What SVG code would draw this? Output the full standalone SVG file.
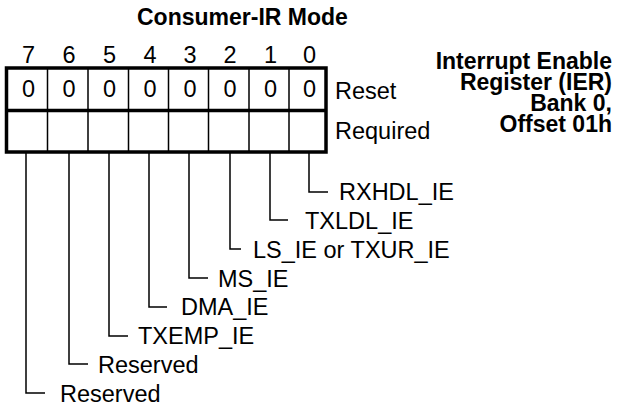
<svg xmlns="http://www.w3.org/2000/svg" width="618" height="408" viewBox="0 0 618 408">
<style>
text{font-family:"Liberation Sans",Arial,sans-serif;font-size:23.5px;fill:#000}
.b{font-weight:bold;font-size:23px}
.c{text-anchor:middle}
.e{text-anchor:end}
.thick{fill:none;stroke:#000;stroke-width:3.5}
.thin{fill:none;stroke:#000;stroke-width:1.5}
.lead{fill:none;stroke:#000;stroke-width:1.5}
</style>
<rect width="618" height="408" fill="#fff"/>
<g id="title"><text class="b" x="137" y="25">Consumer-IR Mode</text></g>
<g id="register-name">
<text class="b e"><tspan x="612" y="69">Interrupt Enable</tspan><tspan x="612" y="90">Register (IER)</tspan><tspan x="612" y="111">Bank 0,</tspan><tspan x="612" y="132">Offset 01h</tspan></text>
</g>
<g id="bit-numbers">
<text class="c" x="28.5" y="62.5">7</text>
<text class="c" x="69" y="62.5">6</text>
<text class="c" x="109.5" y="62.5">5</text>
<text class="c" x="150" y="62.5">4</text>
<text class="c" x="190" y="62.5">3</text>
<text class="c" x="230" y="62.5">2</text>
<text class="c" x="270.5" y="62.5">1</text>
<text class="c" x="309.5" y="62.5">0</text>
</g>
<g id="register">
<path class="thin" d="M47.5 68V152M88 68V152M128.5 68V152M168.5 68V152M208.5 68V152M249 68V152M289 68V152"/>
<rect class="thick" x="6.5" y="68" width="319.5" height="84"/>
<line class="thick" x1="6.5" y1="110.5" x2="326" y2="110.5"/>
<text class="c" x="28.5" y="97">0</text>
<text class="c" x="69" y="97">0</text>
<text class="c" x="109.5" y="97">0</text>
<text class="c" x="150" y="97">0</text>
<text class="c" x="190" y="97">0</text>
<text class="c" x="230" y="97">0</text>
<text class="c" x="270.5" y="97">0</text>
<text class="c" x="309.5" y="97">0</text>
<text x="335" y="99">Reset</text>
<text x="335" y="139">Required</text>
</g>
<g id="connectors">
<path class="lead" d="M309 152V192H328"/>
<path class="lead" d="M270 152V220H288"/>
<path class="lead" d="M230 152V249H241"/>
<path class="lead" d="M189 152V278H208"/>
<path class="lead" d="M149 152V307H167"/>
<path class="lead" d="M109 152V336H128"/>
<path class="lead" d="M69 152V364H88"/>
<path class="lead" d="M26 152V393H45"/>
</g>
<g id="labels">
<text x="339" y="200">RXHDL_IE</text>
<text x="305" y="228.5">TXLDL_IE</text>
<text x="253" y="257.5">LS_IE or TXUR_IE</text>
<text x="218" y="286.5">MS_IE</text>
<text x="181" y="315">DMA_IE</text>
<text x="138" y="344">TXEMP_IE</text>
<text x="98" y="372.5">Reserved</text>
<text x="60" y="401.5">Reserved</text>
</g>
</svg>
